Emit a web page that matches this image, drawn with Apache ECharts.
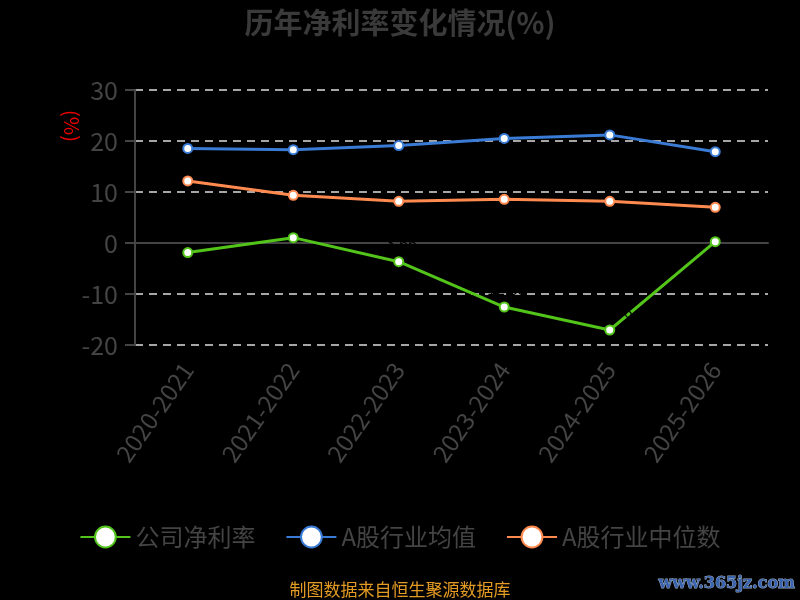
<!DOCTYPE html>
<html>
<head>
<meta charset="utf-8">
<script src="https://cdn.jsdelivr.net/npm/echarts@6/dist/echarts.min.js"></script>
<style>
    html, body { margin: 0; padding: 0; background: #000; }
    #main { width: 800px; height: 600px; }
</style>
</head>
<body>
<div id="main"></div>
<script>
    // 数据
    var years = ['2020-2021', '2021-2022', '2022-2023', '2023-2024', '2024-2025', '2025-2026'];
    var companyRate = [-1.87, 1.05, -3.66, -12.55, -17.06, 0.26];
    var industryAvg = [18.55, 18.3, 19.1, 20.5, 21.2, 17.9];
    var industryMid = [12.16, 9.35, 8.17, 8.56, 8.17, 7.0];
    var yTicks = { min: -20, max: 30, interval: 10 };

    var font = '"Noto Sans CJK SC", "Noto Sans", sans-serif';
    var myChart = echarts.init(document.getElementById('main'));

    function lineSeries(name, color, data) {
        return {
            name: name,
            type: 'line',
            data: data,
            symbol: 'circle',
            symbolSize: 9,
            lineStyle: { color: color, width: 3 },
            itemStyle: { color: '#fff', borderColor: color, borderWidth: 2 },
            label: {
                show: name === '公司净利率',
                position: 'top',
                color: '#000',
                fontSize: 16,
                fontFamily: font
            }
        };
    }

    var option = {
        backgroundColor: '#000',
        animation: false,
        title: {
            text: '历年净利率变化情况(%)',
            left: 'center',
            top: 3,
            textStyle: { color: '#3a3a3a', fontSize: 29, fontWeight: 'bold', fontFamily: font }
        },
        grid: { left: 135, right: 32, top: 90, bottom: 255 },
        legend: {
            bottom: 46,
            itemWidth: 50,
            itemHeight: 26,
            itemGap: 30,
            textStyle: { color: '#444', fontSize: 24, fontFamily: font },
            data: ['公司净利率', 'A股行业均值', 'A股行业中位数']
        },
        xAxis: [{
            type: 'category',
            data: years,
            axisLine: { show: false, onZero: false },
            axisTick: { show: false },
            axisLabel: { rotate: 55, margin: 20, color: '#444', fontSize: 24, fontFamily: font }
        }, {
            type: 'category',
            data: years,
            axisLine: { onZero: true, lineStyle: { color: '#444', width: 2 } },
            axisTick: { length: 6, lineStyle: { color: '#444', width: 2 } },
            axisLabel: { show: false }
        }],
        yAxis: {
            type: 'value',
            min: yTicks.min,
            max: yTicks.max,
            interval: yTicks.interval,
            axisLine: { show: true, lineStyle: { color: '#444', width: 2 } },
            axisTick: { show: true, length: 10, lineStyle: { color: '#444', width: 2 } },
            axisLabel: { margin: 17, color: '#444', fontSize: 25, fontFamily: font },
            splitLine: { lineStyle: { color: '#ddd', type: [8, 6], width: 1.5 } }
        },
        graphic: [{
            type: 'text',
            x: 72,
            y: 126,
            rotation: -Math.PI / 2,
            style: { text: '(%)', fill: '#e00', fontSize: 20, fontFamily: font, align: 'center', verticalAlign: 'middle' }
        }, {
            type: 'text',
            x: 400,
            y: 590,
            style: { text: '制图数据来自恒生聚源数据库', fill: '#e39b24', fontSize: 17, fontFamily: font, align: 'center', verticalAlign: 'middle' }
        }, {
            type: 'text',
            x: 795,
            y: 584,
            style: { text: 'www.365jz.com', fill: '#3b64b0', stroke: '#9ab', lineWidth: 1, fontSize: 16, fontWeight: 'bold', fontFamily: '"DejaVu Serif", serif', align: 'right', verticalAlign: 'middle' }
        }],
        series: [
            lineSeries('公司净利率', '#52c41a', companyRate),
            lineSeries('A股行业均值', '#3a7bd5', industryAvg),
            lineSeries('A股行业中位数', '#ff8a50', industryMid)
        ]
    };
    myChart.setOption(option);
</script>
</body>
</html>
